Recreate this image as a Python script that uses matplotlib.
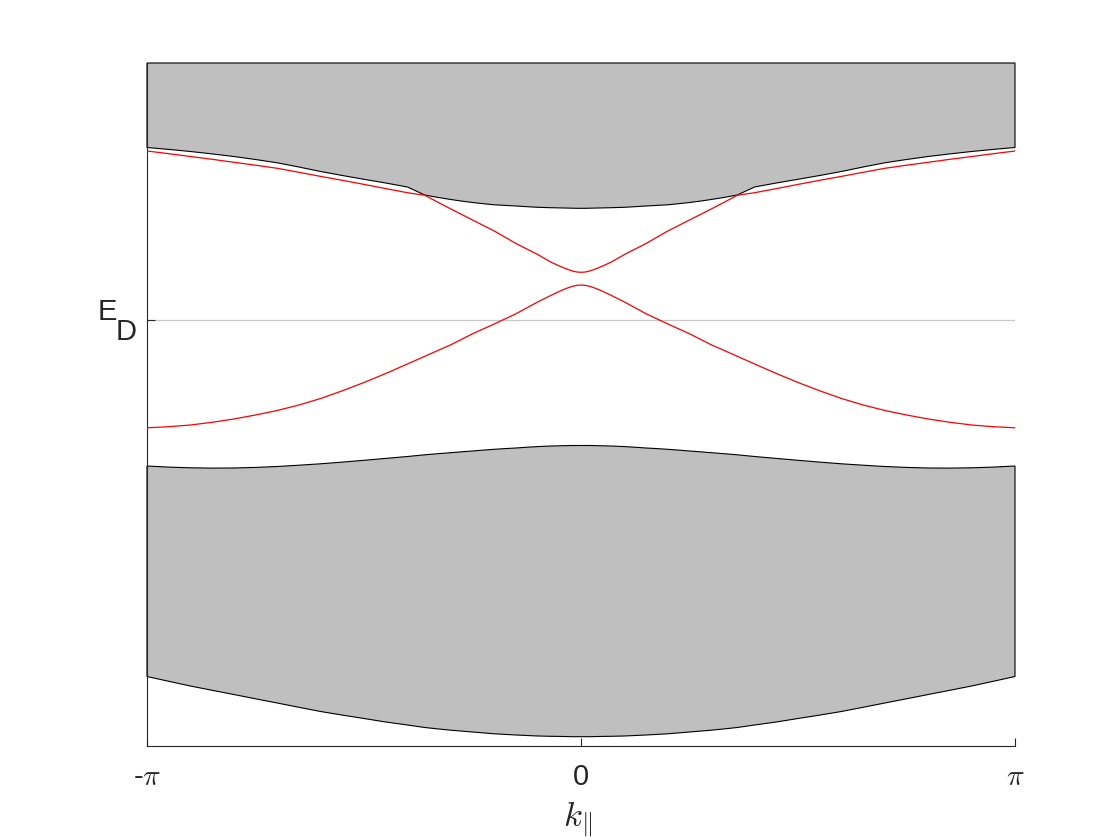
import numpy as np
import matplotlib.pyplot as plt

plt.rcParams['font.family'] = ['Liberation Sans', 'DejaVu Sans']
plt.rcParams['mathtext.fontset'] = 'cm'

# k_parallel sample points (units of pi), right half; the figure is symmetric in k
k_half = np.array([0, .01, .02, .03, .04, .05, .07, .1, .12, .15, .175, .2, .225, .25, .275, .3,
                   .33, .36, .4, .45, .5, .55, .6, .65, .7, .75, .8, .85, .9, .95, 1.0])

# energies (arbitrary units, E_D = 0)
upper_band_low = np.array([1.117, 1.117, 1.118, 1.119, 1.120, 1.121, 1.123, 1.127, 1.132, 1.140,
                           1.146, 1.152, 1.163, 1.175, 1.189, 1.205, 1.226, 1.250, 1.330, 1.370,
                           1.407, 1.445, 1.485, 1.530, 1.572, 1.605, 1.635, 1.661, 1.685, 1.706, 1.725])
upper_band_high = 2.57
surf_upper = np.array([0.477, 0.480, 0.490, 0.505, 0.522, 0.540, 0.580, 0.655, 0.699, 0.765,
                       0.828, 0.890, 0.945, 1.000, 1.055, 1.110, 1.178, 1.247, 1.273, 1.314,
                       1.356, 1.397, 1.436, 1.477, 1.517, 1.548, 1.577, 1.607, 1.635, 1.663, 1.690])
surf_lower = np.array([0.350, 0.346, 0.337, 0.322, 0.305, 0.286, 0.245, 0.180, 0.133, 0.062,
                       0.011, -0.040, -0.089, -0.138, -0.193, -0.248, -0.305, -0.363, -0.440, -0.535,
                       -0.625, -0.708, -0.785, -0.850, -0.905, -0.950, -0.990, -1.023, -1.050, -1.067, -1.078])
lower_band_high = np.array([-1.255, -1.255, -1.255, -1.256, -1.257, -1.258, -1.260, -1.266, -1.271, -1.280,
                            -1.286, -1.293, -1.301, -1.310, -1.318, -1.327, -1.337, -1.348, -1.365, -1.384,
                            -1.403, -1.421, -1.438, -1.452, -1.465, -1.474, -1.480, -1.481, -1.478, -1.471, -1.460])
lower_band_low = np.array([-4.167, -4.167, -4.167, -4.166, -4.165, -4.164, -4.163, -4.160, -4.156, -4.150,
                           -4.144, -4.138, -4.129, -4.120, -4.111, -4.102, -4.089, -4.075, -4.050, -4.020,
                           -3.985, -3.951, -3.915, -3.873, -3.830, -3.788, -3.745, -3.703, -3.660, -3.613, -3.565])


def mirror(v):
    return np.concatenate([v[::-1], v[1:]])


k = np.concatenate([-k_half[::-1], k_half[1:]]) * np.pi

fig = plt.figure(figsize=(11.2, 8.4), dpi=100)
ax = fig.add_axes([147 / 1120, 94 / 840, 868 / 1120, 683 / 840])

gray = '#bfbfbf'
# bulk bands
ax.fill(np.concatenate([k, k[::-1]]),
        np.concatenate([mirror(upper_band_low), np.full(len(k), upper_band_high)]),
        fc=gray, ec='k', lw=0.8, clip_on=False, zorder=2)
ax.fill(np.concatenate([k, k[::-1]]),
        np.concatenate([mirror(lower_band_low), mirror(lower_band_high)[::-1]]),
        fc=gray, ec='k', lw=0.8, clip_on=False, zorder=2)

ax.axhline(0, color='#c8c8c8', lw=0.9, zorder=1)

# surface states
ax.plot(k, mirror(surf_upper), color='r', lw=0.9, zorder=3)
ax.plot(k, mirror(surf_lower), color='r', lw=0.9, zorder=3)

ax.set_xlim(-np.pi, np.pi)
ax.set_ylim(-4.26, 2.57)
ax.spines['top'].set_visible(False)
ax.spines['right'].set_visible(False)
for s in ['left', 'bottom']:
    ax.spines[s].set_color('#262626')
    ax.spines[s].set_linewidth(0.8)

ax.set_xticks([-np.pi, 0, np.pi], ['-$\\pi$', '0', '$\\pi$'])
ax.set_yticks([0], [''])
ax.tick_params(direction='in', length=6, width=0.8, labelsize=21, pad=12.5,
               color='#262626', labelcolor='#262626')

ax.annotate('E', xy=(0, 0), xycoords=('axes fraction', 'data'), xytext=(-40, 8),
            textcoords='offset pixels', ha='center', va='center', fontsize=21, color='#262626')
ax.annotate('D', xy=(0, 0), xycoords=('axes fraction', 'data'), xytext=(-21, -12),
            textcoords='offset pixels', ha='center', va='center', fontsize=21, color='#262626')

fig.text(578 / 1120, 1 - 826 / 840, r'$k_{\|}$', ha='center', va='baseline', fontsize=25,
         color='#262626')

fig.savefig('out.png', dpi=100)
